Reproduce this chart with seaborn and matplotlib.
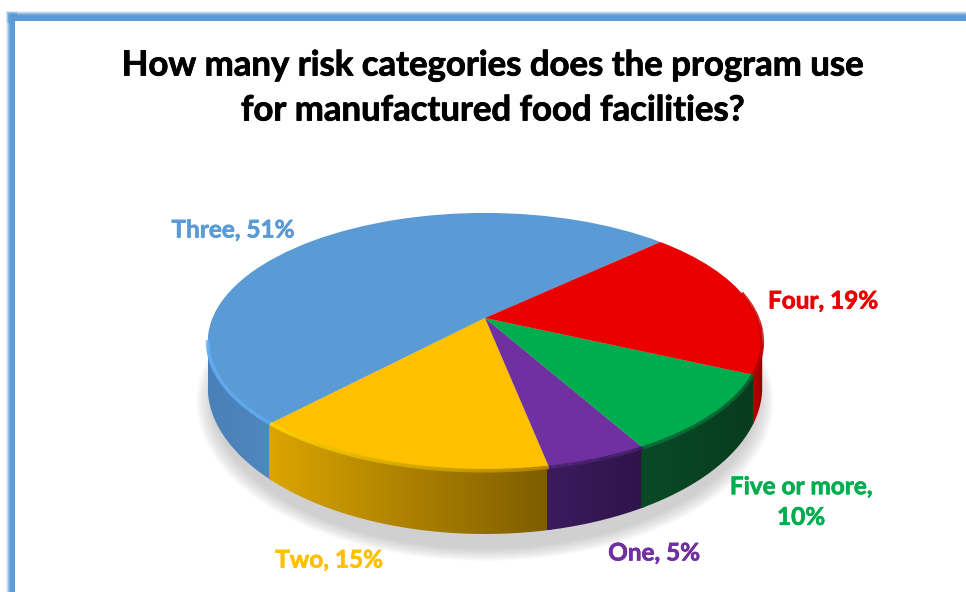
import matplotlib
matplotlib.use("Agg")
import matplotlib.pyplot as plt
import matplotlib.patheffects as pe
import numpy as np
import seaborn as sns
from matplotlib.collections import LineCollection
from matplotlib.patches import PathPatch, Rectangle
from matplotlib.path import Path
from matplotlib.transforms import Transform

categories = ["Three", "Two", "One", "Five or more", "Four"]
shares = [51, 15, 5, 10, 19]
top_colors = ["#5b9bd5", "#ffc000", "#7030a0", "#00ad4e", "#ea0000"]
wall_left = ["#4a80b8", "#dba500", "#3b1b5e", "#0a4a26", "#b80000"]
wall_right = ["#4f87bf", "#7d5c00", "#2f134a", "#073c1e", "#8f0000"]
rim_left = ["#64b0f8", "#ffd400", "#4a2470", "#0a6a36", "#b00000"]
rim_right = ["#60a8ee", "#b08400", "#3d1b60", "#0a5a2e", "#d80000"]
title = "How many risk categories does the program use\nfor manufactured food facilities?"

sns.set_theme(style="white")
plt.rcParams["font.family"] = ["Lato", "DejaVu Sans"]


class PieView(Transform):
    # tilts the flat pie into picture pixels, near edge comes out bigger
    input_dims = 2
    output_dims = 2

    def __init__(self, drop=0):
        super().__init__()
        self.drop = drop

    def transform_non_affine(self, values):
        values = np.asarray(values, dtype=float)
        den = 1 + 0.185 * values[:, 1]
        x = 485 + 272.5 * values[:, 0] / den
        y = 318 - 124.5 * values[:, 1] / den + self.drop / den ** 2
        return np.column_stack([x, y])


fig, ax = plt.subplots(figsize=(9.66, 5.92), dpi=100)
fig.subplots_adjust(0, 0, 1, 1)
fig.patch.set_facecolor("white")

# soft shadow under the pie
for radius in np.linspace(1.04, 0.985, 14):
    ghost, _ = ax.pie([100], radius=radius, colors=["#555555"], startangle=0)
    ghost[0].set_alpha(0.018)
    ghost[0].set_transform(PieView(drop=54) + ax.transData)
    ghost[0].set_zorder(1)

wedges, _ = ax.pie(shares, colors=top_colors, startangle=43.5, counterclock=True)

top_view = PieView()
low_view = PieView(drop=42)

for i, w in enumerate(wedges):
    w.set_transform(top_view + ax.transData)
    w.set_zorder(5)
    w.set_linewidth(0)

    # side wall only for the part of the wedge facing us (past the widest points)
    t1, t2 = w.theta1, w.theta2
    spans = [(max(t1, 190), min(t2, 350)), (max(t1, 550), min(t2, 710))]
    for a, b in spans:
        if b <= a:
            continue
        th = np.radians(np.linspace(a - 0.4, b + 0.4, 90))
        ring = np.column_stack([np.cos(th), np.sin(th)])
        upper = top_view.transform(ring)
        lower = low_view.transform(ring)
        outline = np.vstack([upper, lower[::-1], upper[:1]])
        clip = PathPatch(Path(outline), transform=ax.transData, facecolor="none", edgecolor="none")
        ax.add_patch(clip)
        cmap = sns.blend_palette([wall_left[i], wall_right[i]], as_cmap=True)
        im = ax.imshow(np.linspace(0, 1, 256)[None, :], cmap=cmap, aspect="auto", zorder=3,
                       extent=[outline[:, 0].min(), outline[:, 0].max(), outline[:, 1].max(), outline[:, 1].min()])
        im.set_clip_path(clip)

    # bevel on the top edge, the red one runs on a little round the right side
    end = t2 if categories[i] != "Four" else 372
    start = max(t1, 190)
    th = np.radians(np.linspace(start, end, 90))
    pts = top_view.transform(np.column_stack([np.cos(th), np.sin(th)])).reshape(-1, 1, 2)
    segs = np.concatenate([pts[:-1], pts[1:]], axis=1)
    rim_cmap = sns.blend_palette([rim_left[i], rim_right[i]], as_cmap=True)
    rim = LineCollection(segs, cmap=rim_cmap, linewidths=2.6, zorder=6)
    rim.set_array(np.linspace(0, 1, len(segs)))
    ax.add_collection(rim)

ax.set_aspect("auto")
ax.set_xlim(0, 966)
ax.set_ylim(592, 0)
ax.axis("off")

# frame of the slide, blurred on the outer side
for step, alpha in enumerate(np.linspace(0.12, 0.85, 6)):
    ax.add_patch(Rectangle((6 + step, 11 + step), 970, 12 - step, color="#5b9bd5", alpha=alpha, lw=0, zorder=0.5))
    ax.add_patch(Rectangle((6 + step, 11 + step), 11 - step, 590, color="#5b9bd5", alpha=alpha, lw=0, zorder=0.5))
ax.add_patch(Rectangle((15, 21), 960, 580, color="white", lw=0, zorder=0.6))

ax.text(493, 88, title, ha="center", va="center", fontsize=25, fontweight="bold", color="black",
        linespacing=1.5, zorder=10, path_effects=[pe.withStroke(linewidth=0.6, foreground="black")])

labels = [f"{c}, {s}%" for c, s in zip(categories, shares)]
labels[3] = "Five or more,\n10%"
spots = [(233, 230), (329, 560), (654, 553), (801, 502), (823, 301)]
for text, color, (x, y) in zip(labels, top_colors, spots):
    ax.text(x, y, text, ha="center", va="center", color=color, fontsize=17.5, fontweight="bold",
            linespacing=1.4, zorder=10, path_effects=[pe.withStroke(linewidth=0.5, foreground=color)])

fig.savefig("out.png", dpi=100)
